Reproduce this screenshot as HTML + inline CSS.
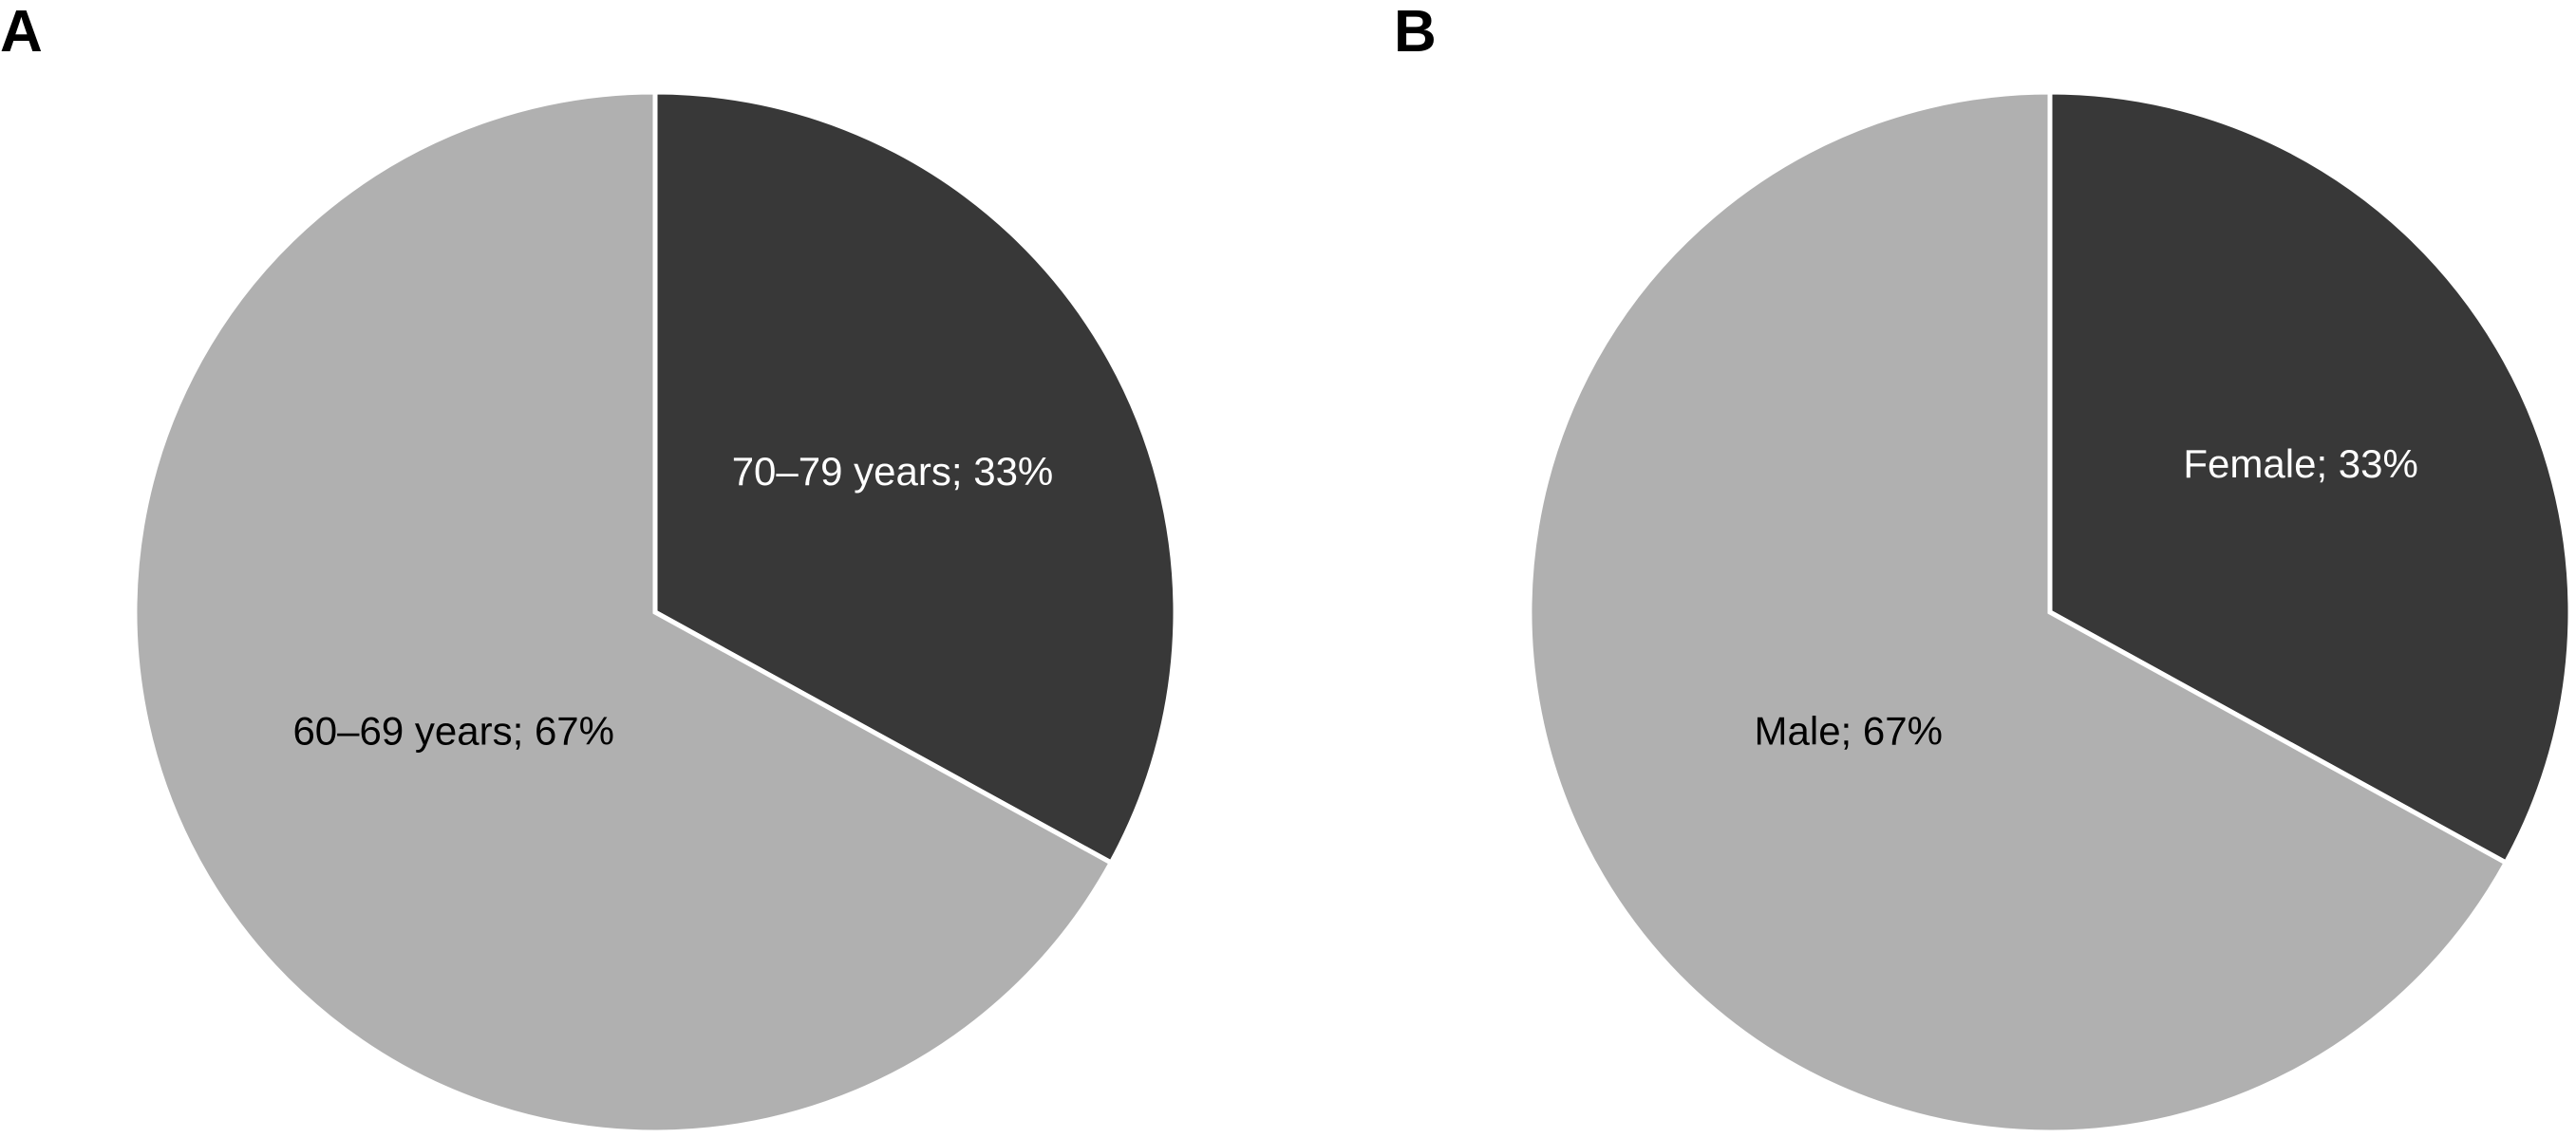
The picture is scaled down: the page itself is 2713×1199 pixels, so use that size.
<!DOCTYPE html>
<html><head><meta charset="utf-8"><style>
html,body{margin:0;padding:0;background:#fff;}
svg{display:block;}
text{font-family:"Liberation Sans",sans-serif;}
</style></head><body>
<svg id="chart" width="2713" height="1199" viewBox="0 0 2713 1199">
<text x="0" y="54" font-size="62" font-weight="bold" fill="#000">A</text>
<text x="1468" y="54" font-size="62" font-weight="bold" fill="#000">B</text>
<g id="pieA"></g>
<g id="pieB"></g>
</svg>
<script>
const ageLabels = ["70–79 years", "60–69 years"];
const ageValues = [33, 67];
const sexLabels = ["Female", "Male"];
const sexValues = [33, 67];
const colors = ["#383838", "#b0b0b0"];
const textColors = ["#ffffff", "#000000"];
const NS = "http://www.w3.org/2000/svg";
function drawPie(g, cx, cy, r, labels, values, labelPos, namePrefix) {
  const total = values.reduce((a, b) => a + b, 0);
  let start = -Math.PI / 2;
  values.forEach((v, i) => {
    const ang = v / total * 2 * Math.PI;
    const end = start + ang;
    const x1 = cx + r * Math.cos(start), y1 = cy + r * Math.sin(start);
    const x2 = cx + r * Math.cos(end), y2 = cy + r * Math.sin(end);
    const large = ang > Math.PI ? 1 : 0;
    const p = document.createElementNS(NS, "path");
    p.setAttribute("d", `M${cx},${cy} L${x1},${y1} A${r},${r} 0 ${large} 1 ${x2},${y2} Z`);
    p.setAttribute("fill", colors[i]);
    p.setAttribute("stroke", "#fff");
    p.setAttribute("stroke-width", "5");
    
    
    g.appendChild(p);
    const mid = start + ang / 2;
    const lr = r * labelPos[i];
    const t = document.createElementNS(NS, "text");
    t.setAttribute("x", cx + lr * Math.cos(mid));
    t.setAttribute("y", cy + lr * Math.sin(mid) + 14);
    t.setAttribute("text-anchor", "middle");
    t.setAttribute("font-size", "42");
    t.setAttribute("fill", textColors[i]);
    t.textContent = labels[i] + "; " + v + "%";
    
    
    g.appendChild(t);
    start = end;
  });
}
drawPie(document.getElementById("pieA"), 690, 645, 548, ageLabels, ageValues, [0.53, 0.45], "age");
drawPie(document.getElementById("pieB"), 2159, 645, 548, sexLabels, sexValues, [0.56, 0.45], "sex");
</script>
</body></html>
